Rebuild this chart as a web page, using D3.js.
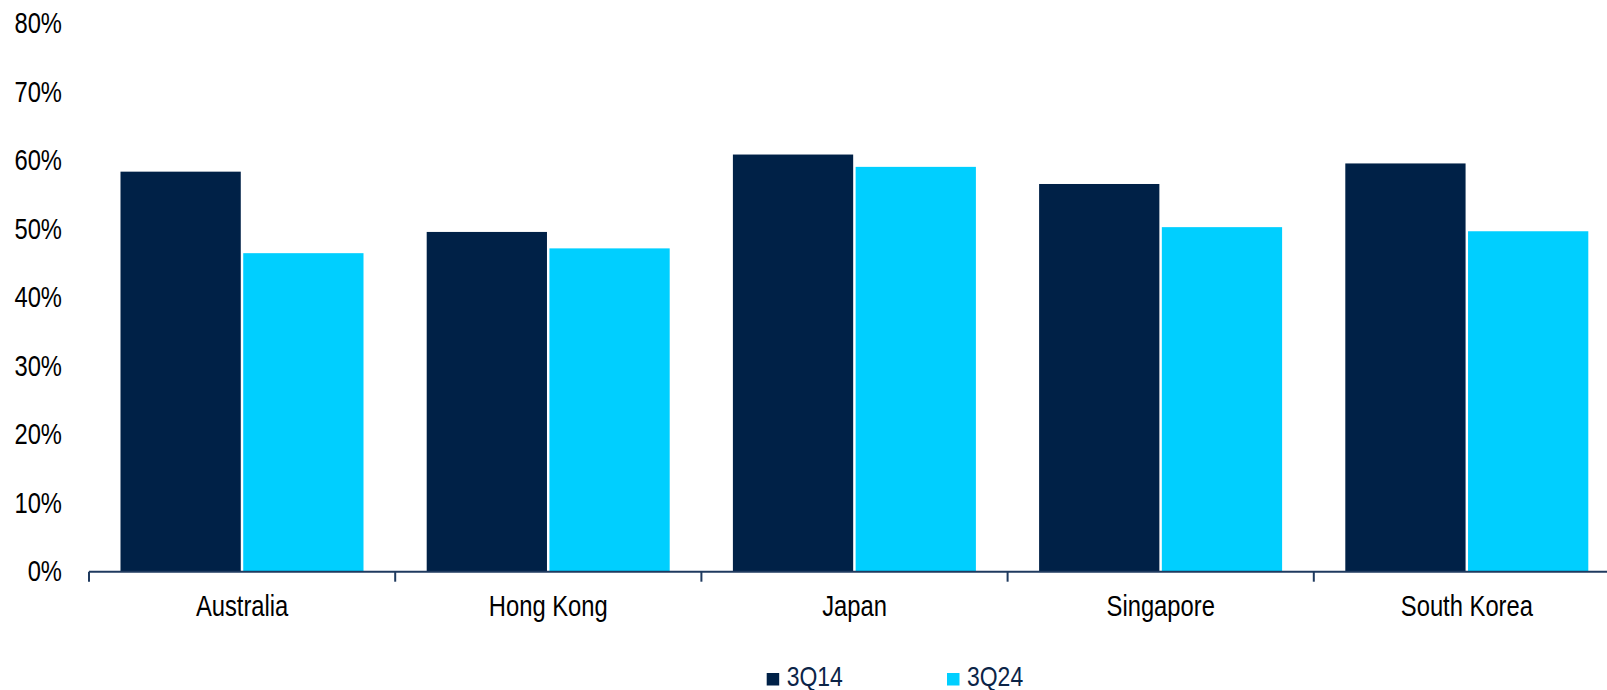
<!DOCTYPE html>
<html>
<head>
<meta charset="utf-8">
<script src="https://cdn.jsdelivr.net/npm/d3@7"></script>
<style>
  body { margin: 0; background: #fff; overflow: hidden; }
  text { font-family: "Liberation Sans", Arial, sans-serif; }
</style>
</head>
<body>
<svg id="chart"></svg>
<script>
// categories and series
const countries = ['Australia', 'Hong Kong', 'Japan', 'Singapore', 'South Korea'];
const seriesNames = ['3Q14', '3Q24'];
const values3Q14 = [58.4, 49.6, 60.9, 56.6, 59.6];
const values3Q24 = [46.5, 47.2, 59.1, 50.3, 49.7];
const yTicks = [0, 10, 20, 30, 40, 50, 60, 70, 80];
const colors = ['#002147', '#00CFFF'];

const width = 1607;
const height = 690;
const narrow = 0.82; // squeeze text like Arial Narrow

const svg = d3.select('#chart')
  .attr('width', width)
  .attr('height', height);

// scales
const x = d3.scaleBand()
  .domain(countries)
  .range([89, 89 + 5 * 306.2])
  .padding(0);

const xInner = d3.scaleBand()
  .domain(seriesNames)
  .range([31.5, 274.5])
  .paddingInner(0.02);

const y = d3.scaleLinear()
  .domain([0, 80])
  .range([571.7, 23.7]);

const rows = countries.map((c, i) => ({ country: c, vals: [values3Q14[i], values3Q24[i]] }));

// bars
const groups = svg.selectAll('g.cat')
  .data(rows)
  .join('g')
  .attr('class', 'cat')
  .attr('transform', d => `translate(${x(d.country)},0)`);

groups.selectAll('rect')
  .data(d => d.vals.map((v, j) => ({ name: seriesNames[j], value: v, j })))
  .join('rect')
  .attr('x', d => xInner(d.name))
  .attr('width', xInner.bandwidth())
  .attr('y', d => y(d.value))
  .attr('height', d => y(0) - y(d.value))
  .attr('fill', d => colors[d.j]);

// y axis labels (no line)
const yAxis = d3.axisLeft(y)
  .tickValues(yTicks)
  .tickFormat(d => d + '%')
  .tickSize(0)
  .tickPadding(0);

svg.append('g')
  .attr('transform', 'translate(62,0)')
  .call(yAxis)
  .call(g => g.select('.domain').remove())
  .selectAll('text')
  .attr('font-size', 29)
  .attr('fill', '#000')
  .attr('transform', `scale(${narrow},1)`)
  .style('font-family', '"Liberation Sans", Arial, sans-serif');

// x axis line with ticks between categories
const xAxisG = svg.append('g');
xAxisG.append('line')
  .attr('x1', 89)
  .attr('x2', width)
  .attr('y1', y(0))
  .attr('y2', y(0))
  .attr('stroke', '#1F3A5F')
  .attr('stroke-width', 2);

const tickPositions = countries.map(c => x(c)).concat([x.range()[1]]);
xAxisG.selectAll('line.tick')
  .data(tickPositions)
  .join('line')
  .attr('class', 'tick')
  .attr('x1', d => d)
  .attr('x2', d => d)
  .attr('y1', y(0))
  .attr('y2', y(0) + 10)
  .attr('stroke', '#1F3A5F')
  .attr('stroke-width', 2);

xAxisG.selectAll('text')
  .data(countries)
  .join('text')
  .attr('transform', d => `translate(${x(d) + x.bandwidth() / 2},616) scale(${narrow},1)`)
  .attr('text-anchor', 'middle')
  .attr('font-size', 29)
  .attr('fill', '#000')
  .text(d => d);

// legend
const legendX = [766.7, 947];
const legend = svg.append('g');
legend.selectAll('rect')
  .data(seriesNames)
  .join('rect')
  .attr('x', (d, i) => legendX[i])
  .attr('y', 673)
  .attr('width', 12.5)
  .attr('height', 12.5)
  .attr('fill', (d, i) => colors[i]);

legend.selectAll('text')
  .data(seriesNames)
  .join('text')
  .attr('transform', (d, i) => `translate(${legendX[i] + 20},686) scale(${narrow},1)`)
  .attr('font-size', 28)
  .attr('fill', '#0B2447')
  .text(d => d);
</script>
</body>
</html>
